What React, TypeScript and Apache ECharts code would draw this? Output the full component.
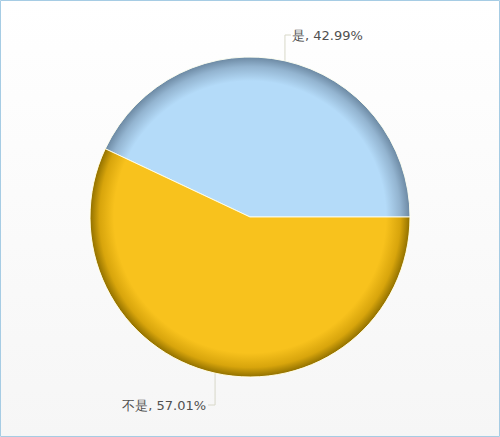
import React, { useEffect, useRef } from "react";
import * as echarts from "echarts";

const categories = ["是", "不是"];
const values = [42.99, 57.01];
const baseColors = ["#b4dbf9", "#f8c21d"];
const midColors = ["#93b4d0", "#d8a50c"];
const edgeColors = ["#6f8ca6", "#967400"];

export default function App() {
  const ref = useRef<HTMLDivElement>(null);
  useEffect(() => {
    if (!ref.current) return;
    const chart = echarts.init(ref.current, null, { renderer: "svg" });
    const cx = 250;
    const cy = 217;
    const R = 160;
    const grad = (i: number) => ({
      type: "radial",
      x: cx,
      y: cy,
      r: R,
      global: true,
      colorStops: [
        { offset: 0, color: baseColors[i] },
        { offset: 0.85, color: baseColors[i] },
        { offset: 0.94, color: midColors[i] },
        { offset: 0.995, color: edgeColors[i] },
        { offset: 1, color: midColors[i] },
      ],
    });
    chart.setOption({
      animation: false,
      graphic: [
        {
          type: "rect",
          z: -10,
          silent: true,
          shape: { x: 0.5, y: 0.5, width: 499, height: 436 },
          style: {
            fill: {
              type: "linear",
              x: 0,
              y: 0,
              x2: 0,
              y2: 1,
              colorStops: [
                { offset: 0, color: "#ffffff" },
                { offset: 1, color: "#f6f6f6" },
              ],
            },
            stroke: "#a6cce4",
            lineWidth: 1,
          },
        },
      ],
      series: [
        {
          type: "pie",
          center: [cx, cy],
          radius: R,
          startAngle: 0,
          clockwise: false,
          data: categories.map((name, i) => ({
            name,
            value: values[i],
            itemStyle: { color: grad(i) },
          })),
          itemStyle: { borderColor: "rgba(255,255,240,0.9)", borderWidth: 1 },
          label: {
            show: true,
            formatter: "{b}, {d}%",
            color: "#505050",
            fontSize: 13,
            fontFamily: "DejaVu Sans",
          },
          labelLine: {
            show: true,
            length: 20,
            length2: 6,
            smooth: false,
            lineStyle: { color: "#d8d8c8", width: 1 },
          },
          emphasis: { disabled: true },
          labelLayout: (params: any) => {
            const p = params.labelLinePoints && params.labelLinePoints[0];
            const sx = p ? p[0] : cx;
            const sy = p ? p[1] : cy;
            if (params.dataIndex === 0) {
              const y = 35;
              return {
                x: sx + 7,
                y,
                align: "left",
                verticalAlign: "middle",
                labelLinePoints: [
                  [sx, sy],
                  [sx, y],
                  [sx + 6, y],
                ],
              };
            }
            const y = 405;
            return {
              x: sx - 9,
              y,
              align: "right",
              verticalAlign: "middle",
              labelLinePoints: [
                [sx, sy],
                [sx, y],
                [sx - 7, y],
              ],
            };
          },
        },
      ],
    });
    return () => chart.dispose();
  }, []);
  return (
    <div
      ref={ref}
      style={{ position: "absolute", left: 0, top: 0, width: 500, height: 437 }}
    />
  );
}
